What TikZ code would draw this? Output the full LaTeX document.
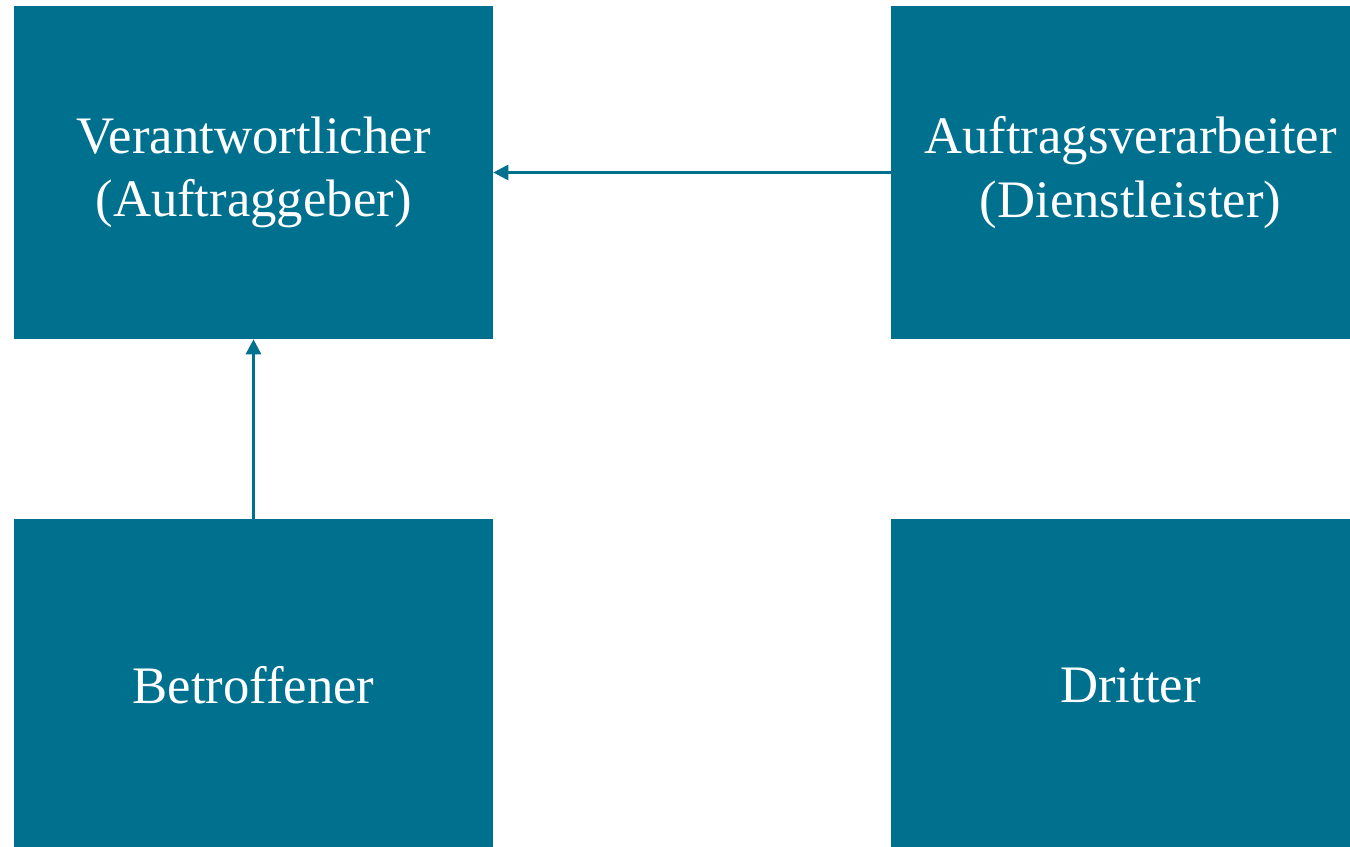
\documentclass[tikz,border=0pt]{standalone}
\usepackage{fontspec}
\setmainfont{Liberation Serif}
\usetikzlibrary{arrows.meta}
\definecolor{petrol}{RGB}{0,112,143}

\begin{document}
\begin{tikzpicture}[x=0.02cm, y=-0.02cm,
    rolle/.style={fill=petrol, text=white, align=center, inner sep=0pt,
        minimum width=9.58cm, minimum height=6.66cm,
        font=\fontsize{30}{36}\selectfont},
    pfeil/.style={draw=petrol, line width=1.6pt, -{Triangle[length=0.3cm,width=0.3cm]}}]
        \useasboundingbox (0,0) rectangle (1350,847);
        \node[rolle] (verantw) at (253.5,172.5) {Verantwortlicher\\(Auftraggeber)};
        \node[rolle] (auftragsv) at (1130.5,172.5) {Auftragsverarbeiter\\(Dienstleister)};
        \node[rolle] (betroffen) at (253.5,685.5) {Betroffener};
        \node[rolle] (dritter) at (1130.5,685.5) {Dritter};
        \draw[pfeil] (auftragsv) -- (verantw);
        \draw[pfeil] (betroffen) -- (verantw);
    \end{tikzpicture}
\end{document}
